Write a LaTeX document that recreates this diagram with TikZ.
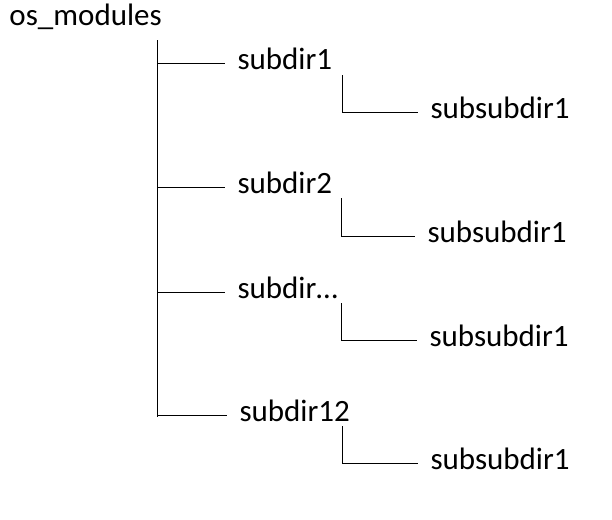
\documentclass[tikz,border=0pt]{standalone}
\usepackage{fontspec}
\setmainfont{Carlito}
\begin{document}
\begin{tikzpicture}[x=0.5pt, y=-0.5pt, line width=0.5pt,
	dir/.style={anchor=west, inner sep=6pt, text height=1.3ex, text depth=0pt, font=\fontsize{15.5}{18}\selectfont}]
	\useasboundingbox (0,0) rectangle (612,520);

	% root folder and trunk
	\node [dir, inner sep=0pt] (root) at (9,19) {os\_modules};
	\coordinate (top) at (157,40);
	\coordinate (bottom) at (157,417);
	\draw (top) -- (bottom);

	% first level folders
	\node [dir] (sub1) at (225,63) {subdir1};
	\node [dir] (sub2) at (225,187) {subdir2};
	\node [dir] (subx) at (225,292) {subdir…};
	\node [dir] (sub12) at (227,415) {subdir12};
	\draw (top |- sub1.west) -- (sub1.west);
	\draw (top |- sub2.west) -- (sub2.west);
	\draw (top |- subx.west) -- (subx.west);
	\draw (top |- sub12.west) -- (sub12.west);

	% second level folders
	\node [dir] (ss1) at (418,112) {subsubdir1};
	\node [dir] (ss2) at (415,236) {subsubdir1};
	\node [dir] (ssx) at (417,340) {subsubdir1};
	\node [dir] (ss12) at (418,463) {subsubdir1};
	\coordinate (k1) at (342,75);
	\coordinate (k2) at (341,198);
	\coordinate (kx) at (341,303);
	\coordinate (k12) at (342,426);
	\draw (k1) |- (ss1.west);
	\draw (k2) |- (ss2.west);
	\draw (kx) |- (ssx.west);
	\draw (k12) |- (ss12.west);
\end{tikzpicture}
\end{document}
